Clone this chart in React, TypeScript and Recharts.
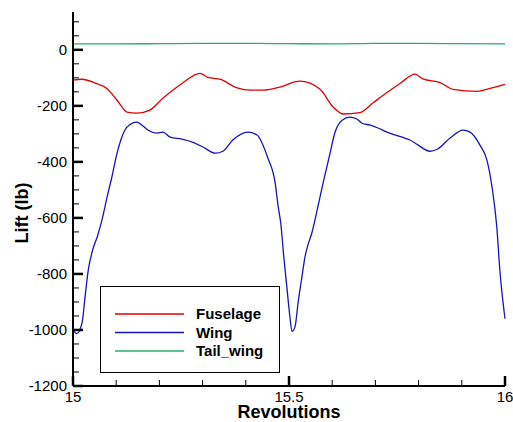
import React from 'react';
import { LineChart, Line, XAxis, YAxis } from 'recharts';

const FUSELAGE_REV = [
  15.0, 15.021, 15.05, 15.079, 15.102, 15.125, 15.148, 15.178, 15.208, 15.25, 15.294,
  15.312, 15.34, 15.38, 15.41, 15.44, 15.479, 15.525, 15.572, 15.602, 15.625, 15.664,
  15.694, 15.718, 15.757, 15.792, 15.81, 15.85, 15.88, 15.935, 15.972, 16.0,
];
const FUSELAGE_LIFT = [
  -108, -105, -118, -139, -180, -222, -226, -215, -173, -123, -84,
  -98, -105, -136, -144, -144, -133, -112, -141, -204, -229, -224,
  -190, -162, -120, -87, -104, -117, -141, -148, -135, -123,
];

const WING_REV = [
  15.0, 15.009, 15.021, 15.028, 15.035, 15.046, 15.056, 15.067, 15.079, 15.09, 15.102,
  15.113, 15.125, 15.148, 15.16, 15.174, 15.194, 15.208, 15.225, 15.252, 15.282, 15.301,
  15.329, 15.347, 15.37, 15.405, 15.426, 15.451, 15.468, 15.475, 15.481, 15.488, 15.495,
  15.502, 15.507, 15.514, 15.521, 15.53, 15.537, 15.544, 15.553, 15.56, 15.579, 15.595,
  15.606, 15.623, 15.641, 15.657, 15.669, 15.688, 15.706, 15.727, 15.762, 15.78, 15.799,
  15.826, 15.843, 15.873, 15.903, 15.919, 15.942, 15.958, 15.97, 15.981, 15.988, 16.0,
];
const WING_LIFT = [
  -1000, -1013, -974, -881, -790, -712, -668, -608, -525, -454, -369,
  -312, -276, -258, -269, -287, -297, -294, -312, -319, -333, -347,
  -369, -362, -322, -294, -304, -386, -475, -560, -620, -740, -846,
  -952, -1005, -988, -903, -810, -739, -696, -653, -608, -475, -369,
  -297, -251, -240, -247, -262, -269, -279, -294, -312, -322, -340,
  -362, -355, -315, -287, -294, -340, -393, -490, -632, -785, -960,
];

const TAIL_REV = [15.0, 15.1, 15.2, 15.3, 15.4, 15.5, 15.6, 15.7, 15.8, 15.9, 16.0];
const TAIL_LIFT = [21, 21, 22, 23, 23, 22, 21, 23, 23, 22, 21];

const X_TICKS = [15, 15.1, 15.2, 15.3, 15.4, 15.5, 15.6, 15.7, 15.8, 15.9, 16];
const X_LABELS = [15, 15.5, 16];
const Y_TICKS = [
  -1200, -1150, -1100, -1050, -1000, -950, -900, -850, -800, -750, -700, -650, -600,
  -550, -500, -450, -400, -350, -300, -250, -200, -150, -100, -50, 0, 50, 100,
];

const SERIES = [
  { name: 'Fuselage', color: '#e00000', rev: FUSELAGE_REV, lift: FUSELAGE_LIFT },
  { name: 'Wing', color: '#1414c0', rev: WING_REV, lift: WING_LIFT },
  { name: 'Tail_wing', color: '#22b06e', rev: TAIL_REV, lift: TAIL_LIFT },
];

const FONT = '"Liberation Sans", Arial, Helvetica, sans-serif';

const XTick = ({ x, y, payload }: any) => {
  const v = Math.round(payload.value * 10) / 10;
  const major = X_LABELS.includes(v);
  return (
    <g>
      <line x1={x} x2={x} y1={y} y2={y - (major ? 10 : 6)} stroke="#000" strokeWidth={major ? 2.5 : 1} />
      {major && (
        <text x={x} y={y + 16} textAnchor="middle" fontSize={15} fontFamily={FONT} fill="#000">
          {v}
        </text>
      )}
    </g>
  );
};

const YTick = ({ x, y, payload }: any) => {
  const major = payload.value % 200 === 0;
  return (
    <g>
      <line x1={x} x2={x + (major ? 10 : 6)} y1={y} y2={y} stroke="#000" strokeWidth={major ? 2.5 : 1} />
      {major && (
        <text x={x - 6} y={y + 5} textAnchor="end" fontSize={15} fontFamily={FONT} fill="#000">
          {payload.value}
        </text>
      )}
    </g>
  );
};

export default function App() {
  return (
    <div style={{ position: 'absolute', left: 0, top: 0, width: 513, height: 422, background: '#fff' }}>
      <LineChart width={513} height={422} margin={{ top: 12, right: 8, left: 0, bottom: 0 }}>
        <XAxis
          type="number"
          dataKey="rev"
          domain={[15, 16]}
          ticks={X_TICKS}
          interval={0}
          tick={<XTick />}
          tickSize={0}
          tickMargin={0}
          tickLine={false}
          axisLine={{ stroke: '#000', strokeWidth: 2 }}
          height={36}
          allowDuplicatedCategory={false}
        />
        <YAxis
          type="number"
          domain={[-1200, 135]}
          ticks={Y_TICKS}
          interval={0}
          tick={<YTick />}
          tickSize={0}
          tickMargin={0}
          tickLine={false}
          axisLine={{ stroke: '#000', strokeWidth: 2 }}
          width={73}
          allowDataOverflow
        />
        {SERIES.map((s) => (
          <Line
            key={s.name}
            name={s.name}
            data={s.rev.map((r, i) => ({ rev: r, lift: s.lift[i] }))}
            dataKey="lift"
            type="monotone"
            stroke={s.color}
            strokeWidth={1.3}
            dot={false}
            isAnimationActive={false}
          />
        ))}
        <g>
          <rect x={100.5} y={286.5} width={179} height={86} fill="#fff" stroke="#000" strokeWidth={1} />
          {SERIES.map((s, i) => (
            <g key={s.name}>
              <line x1={115} x2={184} y1={314 + i * 18.5} y2={314 + i * 18.5} stroke={s.color} strokeWidth={1.5} />
              <text x={196} y={319 + i * 18.5} fontSize={15} fontWeight="bold" fontFamily={FONT} fill="#000">
                {s.name}
              </text>
            </g>
          ))}
        </g>
        <text x={289} y={418} textAnchor="middle" fontSize={18} fontWeight="bold" fontFamily={FONT} fill="#000">
          Revolutions
        </text>
        <text
          x={0}
          y={0}
          transform="translate(28,213) rotate(-90)"
          textAnchor="middle"
          fontSize={18}
          fontWeight="bold"
          fontFamily={FONT}
          fill="#000"
        >
          Lift (lb)
        </text>
      </LineChart>
    </div>
  );
}
